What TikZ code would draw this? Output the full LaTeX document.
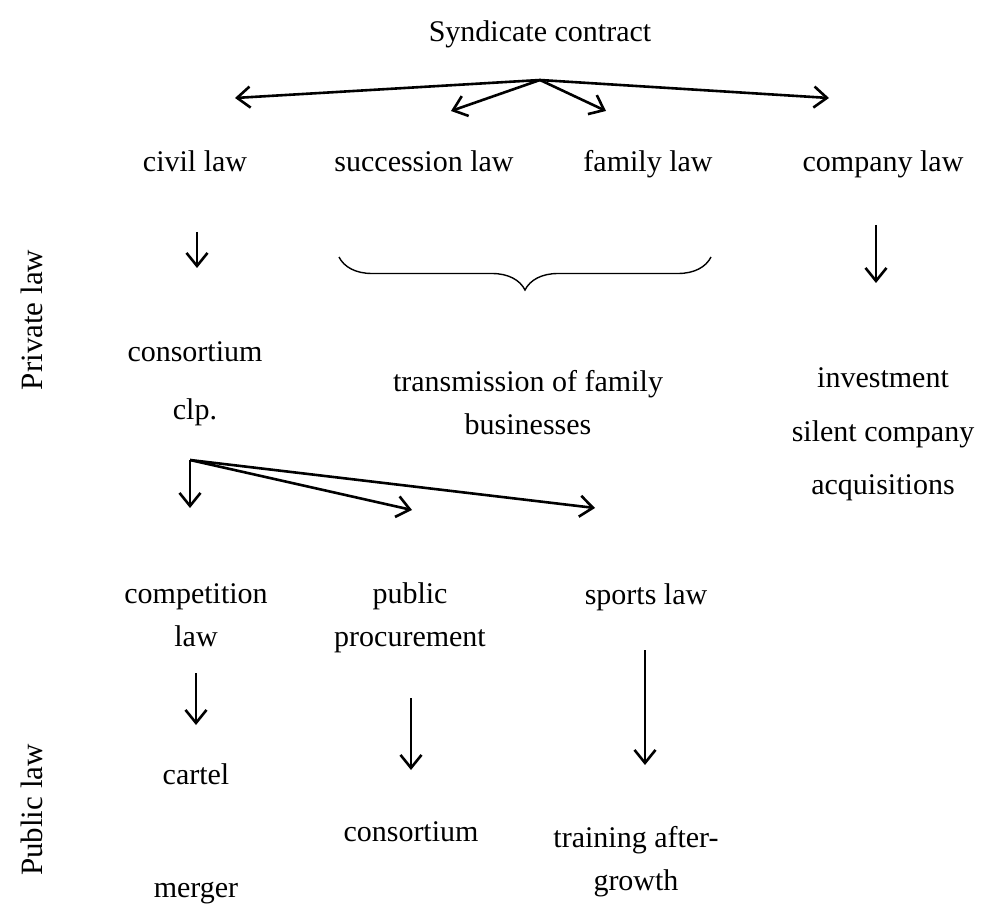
\documentclass[tikz,border=0pt]{standalone}
\usepackage{fontspec}
\setmainfont{Liberation Serif}
\usetikzlibrary{arrows.meta,decorations.pathreplacing}
\begin{document}
\begin{tikzpicture}[x=1pt,y=-1pt,
  lbl/.style={font=\fontsize{30}{43}\selectfont, inner sep=0pt, anchor=base, align=center},
  side/.style={font=\fontsize{31}{43}\selectfont, inner sep=0pt, anchor=center, rotate=90},
  arr/.style={line width=2.6pt, -{Straight Barb[length=13pt,width=21pt]}},
  bracestyle/.style={line width=1.4pt, decorate, decoration={brace, mirror, amplitude=33pt, aspect=0.5}}
]
\useasboundingbox (0,0) rectangle (983,912);

% titles and labels (anchor base = baseline of the last line)
\node[lbl] (synd) at (540,42) {Syndicate contract};
\node[lbl] (civil) at (195,172) {civil law};
\node[lbl] (succ) at (424,172) {succession law};
\node[lbl] (fam) at (648,172) {family law};
\node[lbl] (comp) at (883,172) {company law};

\node[lbl] (cons) at (195,361) {consortium};
\node[lbl] (clp) at (195,419) {clp.};
\node[lbl] (trans) at (528,434) {transmission of family\\businesses};
\node[lbl] (inv) at (883,387) {investment};
\node[lbl] (silent) at (883,441) {silent company};
\node[lbl] (acq) at (883,494) {acquisitions};

\node[lbl] (compet) at (196,646) {competition\\law};
\node[lbl] (pubproc) at (410,646) {public\\procurement};
\node[lbl] (sports) at (646,604) {sports law};

\node[lbl] (cartel) at (196,784) {cartel};
\node[lbl] (merger) at (196,897) {merger};
\node[lbl] (cons2) at (411,841) {consortium};
\node[lbl] (train) at (636,890) {training after-\\growth};

\node[side] (priv) at (32,320) {Private law};
\node[side] (pub) at (32,810) {Public law};

% connectors
\coordinate (o1) at (540,80);
\coordinate (t1) at (235,98);
\coordinate (t2) at (451,111);
\coordinate (t3) at (606,111);
\coordinate (t4) at (829,98);
\draw[arr] (o1) -- (t1);
\draw[arr] (o1) -- (t2);
\draw[arr] (o1) -- (t3);
\draw[arr] (o1) -- (t4);

\coordinate (c1) at (197,232);
\coordinate (c2) at (197,268);
\draw[arr] (c1) -- (c2);

\coordinate (k1) at (876,225);
\coordinate (k2) at (876,283);
\draw[arr] (k1) -- (k2);

\coordinate (b1) at (339,257);
\coordinate (b2) at (711,257);
\draw[bracestyle] (b1) -- (b2);

\coordinate (o2) at (190,460);
\coordinate (u1) at (190,508);
\coordinate (u2) at (412,510);
\coordinate (u3) at (595,508);
\draw[arr] (o2) -- (u1);
\draw[arr] (o2) -- (u2);
\draw[arr] (o2) -- (u3);

\coordinate (p1) at (196,673);
\coordinate (p2) at (196,725);
\draw[arr] (p1) -- (p2);

\coordinate (q1) at (411,698);
\coordinate (q2) at (411,770);
\draw[arr] (q1) -- (q2);

\coordinate (s1) at (645,650);
\coordinate (s2) at (645,765);
\draw[arr] (s1) -- (s2);
\end{tikzpicture}
\end{document}
